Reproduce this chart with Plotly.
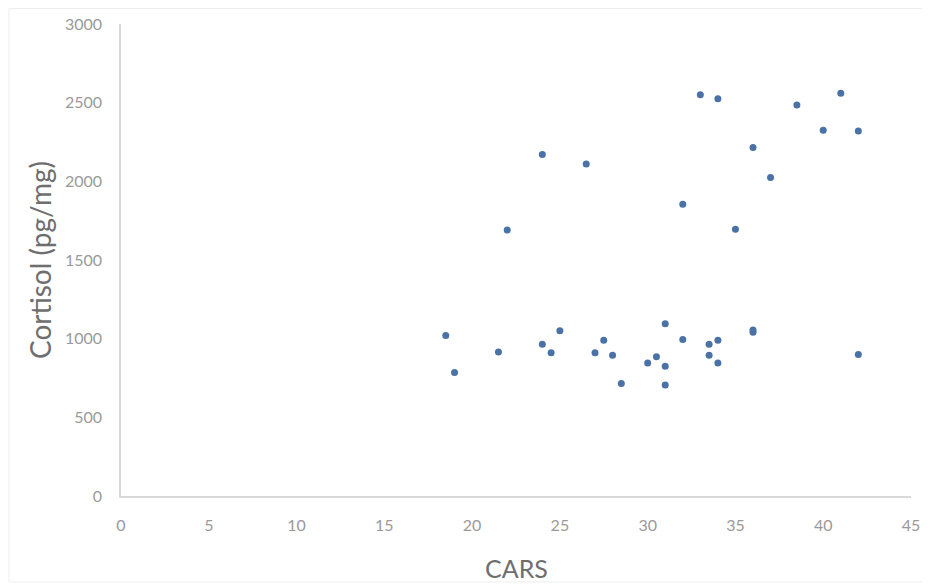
import plotly.graph_objects as go

cars = [18.5, 19, 21.5, 22, 24, 24, 24.5, 25, 26.5, 27, 27.5, 28, 28.5, 30, 30.5,
        31, 31, 31, 32, 32, 33, 33.5, 33.5, 34, 34, 34, 35, 36, 36, 36, 37, 38.5,
        40, 41, 42, 42]
cortisol = [1020, 785, 915, 1690, 2170, 965, 910, 1050, 2110, 910, 990, 895, 715,
            845, 885, 1095, 825, 705, 1855, 995, 2550, 965, 895, 2525, 990, 845,
            1695, 2215, 1040, 1055, 2025, 2485, 2325, 2560, 2320, 900]

fig = go.Figure(go.Scatter(
    x=cars, y=cortisol, mode="markers",
    marker=dict(size=7, color="#4a72a6", line=dict(width=0)),
    showlegend=False,
))

FAM = "Lato, 'Open Sans', sans-serif"
tickfont = dict(family=FAM, size=16, color="#9a9a9a")

fig.update_layout(
    template="none",
    width=922, height=579,
    margin=dict(l=113, r=19, t=16, b=91),
    paper_bgcolor="white", plot_bgcolor="white",
    xaxis=dict(
        range=[0, 45], dtick=5, tick0=0, showgrid=False, zeroline=False,
        automargin=False,
        showline=True, linecolor="#d9d9d9", linewidth=1.5,
        ticks="outside", ticklen=14, tickcolor="rgba(0,0,0,0)",
        tickfont=tickfont,
    ),
    yaxis=dict(
        range=[0, 3000], dtick=500, tick0=0, showgrid=False, zeroline=False,
        automargin=False,
        showline=True, linecolor="#d9d9d9", linewidth=1.5,
        ticks="outside", ticklen=14, tickcolor="rgba(0,0,0,0)",
        tickfont=tickfont,
    ),
    annotations=[
        dict(text="CARS", xref="paper", yref="paper", x=0.5, y=0,
             xanchor="center", yanchor="middle", yshift=-72, showarrow=False,
             font=dict(family=FAM, size=25, color="#6e6e6e")),
        dict(text="Cortisol (pg/mg)", xref="paper", yref="paper", x=0, y=0.5,
             xanchor="center", yanchor="middle", xshift=-81, textangle=-90,
             showarrow=False,
             font=dict(family=FAM, size=28, color="#6e6e6e")),
    ],
    shapes=[dict(type="rect", xref="paper", yref="paper",
                 x0=-0.1418, x1=1.0215, y0=-0.182, y1=1.0328,
                 line=dict(color="#eeeeee", width=1), layer="below")],
)

fig.write_html("out.html")
